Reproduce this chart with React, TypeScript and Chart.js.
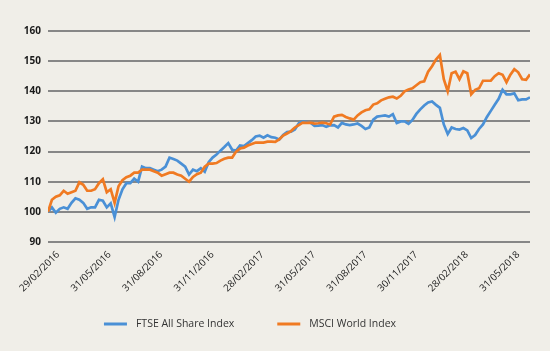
import React, { useEffect, useRef } from "react";
import { Chart, registerables } from "chart.js";

Chart.register(...registerables);

// ---- data ----
const SERIES_NAMES = ["FTSE All Share Index", "MSCI World Index"];
const START_DATE = "11/02/2016"; // first weekly observation (index 0)
const TICK_LABELS = [
  "29/02/2016",
  "31/05/2016",
  "31/08/2016",
  "31/11/2016",
  "28/02/2017",
  "31/05/2017",
  "31/08/2017",
  "30/11/2017",
  "28/02/2018",
  "31/05/2018",
];
const Y_MIN = 90;
const Y_MAX = 160;
const Y_STEP = 10;

// weekly values, rebased to 100
const FTSE = [
  100, 101.5, 99.7, 101, 101.5, 101, 103, 104.5, 104, 103,
  101, 101.5, 101.5, 104, 103.7, 101.5, 102.8, 98.3, 104, 107.5,
  109.5, 109.5, 111, 110, 115, 114.5, 114.5, 114, 113.5, 114,
  115, 118, 117.5, 117, 116, 115, 112.4, 114, 113.5, 114.5,
  113.3, 116.5, 118, 119, 120.3, 121.5, 122.8, 120.6, 120.3, 122,
  121.8, 122.8, 123.8, 125, 125.3, 124.6, 125.4, 124.8, 124.6, 124,
  125.5, 126.5, 126.6, 127.3, 129.4, 130, 129.8, 129.6, 128.5, 128.6,
  128.8, 128.2, 128.7, 128.8, 128, 129.5, 129, 128.8, 129, 129.3,
  128.5, 127.5, 128, 130.6, 131.6, 131.8, 132, 131.6, 132.4, 129.5,
  130, 130, 129.2, 130.5, 132.5, 134, 135.3, 136.3, 136.6, 135.5,
  134.5, 129, 125.8, 128, 127.5, 127.3, 127.8, 127, 124.5, 125.5,
  127.5, 129, 131.5, 133.5, 135.5, 137.5, 140.5, 139, 139, 139.3,
  137, 137.3, 137.3, 138,
];

const MSCI = [
  100, 104, 105, 105.5, 107, 106, 106.5, 107, 109.8, 109,
  107, 107, 107.5, 109.5, 110.8, 106.5, 107.5, 103, 108.5, 110.5,
  111.5, 112, 113, 113, 114, 114, 114, 113.5, 113, 112,
  112.5, 113, 113, 112.4, 112, 111, 110, 111.6, 112.5, 113,
  115, 116, 116, 116.2, 117, 117.6, 118, 118, 120, 121,
  121.3, 122, 122.5, 123, 123, 123, 123.3, 123.3, 123.2, 124,
  125.3, 126, 126.8, 128, 128.8, 129.6, 129.5, 129.6, 129.3, 129.4,
  129.6, 129.4, 129, 131.6, 132, 132.2, 131.5, 131, 130.6, 132,
  133, 133.7, 134, 135.6, 136, 137, 137.5, 138, 138.2, 137.6,
  138.5, 140, 140.6, 141, 142, 143, 143.3, 146.5, 148.3, 150.5,
  152, 144, 140, 146, 146.5, 144, 146.6, 146, 139, 140.5,
  141, 143.5, 143.5, 143.5, 145, 146, 145.5, 143, 145.5, 147.3,
  146.3, 144, 143.8, 145.6,
];

// ---- styling ----
const BG = "#f0eee8";
const BLUE = "#4a90d6";
const ORANGE = "#f07a22";
const GRID = "#878787";
const FONT = '"Open Sans", "Noto Sans", sans-serif';

function parseDate(s: string): number {
  const [d, m, y] = s.split("/").map(Number);
  return Date.UTC(y, m - 1, d);
}
function weekIndex(s: string): number {
  return (parseDate(s) - parseDate(START_DATE)) / (7 * 86400000);
}

const legendPlugin = {
  id: "bottomLegend",
  afterDraw(chart: any) {
    const ctx = chart.ctx as CanvasRenderingContext2D;
    ctx.save();
    ctx.font = `10.5px ${FONT}`;
    const lineLen = 23;
    const textGap = 9;
    const itemGap = 43;
    const items = chart.data.datasets.map((ds: any) => ({
      text: ds.label as string,
      color: ds.borderColor as string,
      w: ctx.measureText(ds.label).width,
    }));
    const total =
      items.reduce((s: number, it: any) => s + lineLen + textGap + it.w, 0) +
      itemGap * (items.length - 1);
    let x = 250 - total / 2;
    const y = 324;
    for (const it of items) {
      ctx.strokeStyle = it.color;
      ctx.lineWidth = 3;
      ctx.beginPath();
      ctx.moveTo(x, y);
      ctx.lineTo(x + lineLen, y);
      ctx.stroke();
      ctx.fillStyle = "#333333";
      ctx.textBaseline = "middle";
      ctx.textAlign = "left";
      ctx.fillText(it.text, x + lineLen + textGap, y);
      x += lineLen + textGap + it.w + itemGap;
    }
    ctx.restore();
  },
};

export default function App() {
  const canvasRef = useRef<HTMLCanvasElement | null>(null);

  useEffect(() => {
    document.body.style.margin = "0";
    document.body.style.background = BG;
    const canvas = canvasRef.current;
    if (!canvas) return;
    const tickValues = TICK_LABELS.map(weekIndex);
    const chart = new Chart(canvas, {
      type: "line",
      data: {
        datasets: [
          {
            label: SERIES_NAMES[0],
            data: FTSE.map((v, i) => ({ x: i, y: v })),
            borderColor: BLUE,
            backgroundColor: BLUE,
            borderWidth: 2.7,
            pointRadius: 0,
            tension: 0,
            order: 1,
          },
          {
            label: SERIES_NAMES[1],
            data: MSCI.map((v, i) => ({ x: i, y: v })),
            borderColor: ORANGE,
            backgroundColor: ORANGE,
            borderWidth: 2.7,
            pointRadius: 0,
            tension: 0,
            order: 0,
          },
        ],
      },
      options: {
        animation: false,
        responsive: true,
        maintainAspectRatio: false,
        layout: { padding: { top: 31, right: 20, left: 0, bottom: 0 } },
        plugins: {
          legend: { display: false },
          tooltip: { enabled: false },
        },
        scales: {
          x: {
            type: "linear",
            min: 0,
            max: FTSE.length - 1,
            grid: { display: false, drawTicks: false },
            border: { display: false },
            afterBuildTicks: (scale: any) => {
              scale.ticks = tickValues.map((v) => ({ value: v }));
            },
            afterFit: (scale: any) => {
              scale.height = 109;
            },
            ticks: {
              autoSkip: false,
              minRotation: 45,
              maxRotation: 45,
              padding: 7,
              color: "#222222",
              font: { family: FONT, size: 9.8 },
              callback: (_v: any, i: number) => TICK_LABELS[i],
            },
          },
          y: {
            min: Y_MIN,
            max: Y_MAX,
            grid: { color: GRID, lineWidth: 2, drawTicks: false },
            border: { display: false },
            afterFit: (scale: any) => {
              scale.width = 48;
            },
            ticks: {
              stepSize: Y_STEP,
              padding: 7,
              color: "#1a1a1a",
              font: { family: FONT, size: 10, weight: "bold" },
            },
          },
        },
      },
      plugins: [legendPlugin],
    });
    return () => chart.destroy();
  }, []);

  return (
    <div
      style={{
        position: "fixed",
        left: 0,
        top: 0,
        width: 550,
        height: 351,
        background: BG,
      }}
    >
      <canvas ref={canvasRef} />
    </div>
  );
}
